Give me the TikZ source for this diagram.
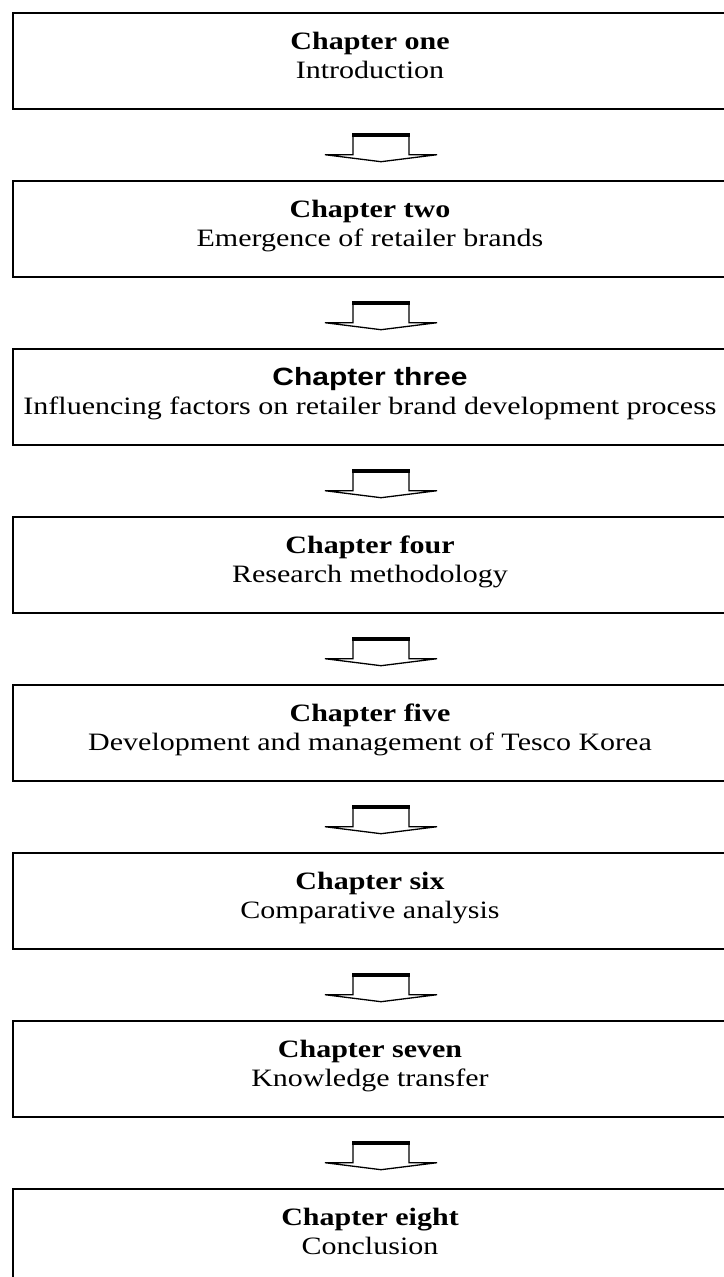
\documentclass[tikz,border=0pt]{standalone}
\usepackage{fontspec}
\setmainfont{Liberation Serif}
\newfontfamily\arialfont{Liberation Sans}
\usetikzlibrary{calc}
\newcommand{\widetext}[1]{\scalebox{1.2}[1]{#1}}
\tikzset{
  chapbox/.style={draw=black, line width=1.4pt, fill=white, minimum width=730pt, minimum height=96pt, inner sep=0pt},
  ttl/.style={font=\fontsize{25}{29}\selectfont\bfseries, inner sep=0pt, anchor=base},
  sub/.style={font=\fontsize{25}{29}\selectfont, inner sep=0pt, anchor=base},
  blockarrow/.style={draw=black, line width=1.3pt, fill=white, line join=miter},
  arrowbar/.style={line width=4pt, line cap=butt}
}
\newcommand{\chapterarrow}[2]{%
  \coordinate (#2) at ($(#1.south)+(3,-24)$);
  \draw[blockarrow] ($(#2)+(-28,0)$) -- ($(#2)+(28,0)$) -- ($(#2)+(28,-21)$) -- ($(#2)+(56,-21)$)
     -- ($(#2)+(0,-28)$) -- ($(#2)+(-56,-21)$) -- ($(#2)+(-28,-21)$) -- cycle;
  \draw[arrowbar] ($(#2)+(-28.6,-1.5)$) -- ($(#2)+(28.6,-1.5)$);
}
\begin{document}
\begin{tikzpicture}[x=1pt,y=1pt]
\useasboundingbox (0,0) rectangle (723,-1277);
\fill[white] (0,0) rectangle (723,-1277);
\foreach \i/\t/\s in {1/Chapter one/Introduction,
                       2/Chapter two/Emergence of retailer brands,
                       3/{\arialfont Chapter three}/Influencing factors on retailer brand development process,
                       4/Chapter four/Research methodology,
                       5/Chapter five/Development and management of Tesco Korea,
                       6/Chapter six/Comparative analysis,
                       7/Chapter seven/Knowledge transfer,
                       8/Chapter eight/Conclusion}{
  \node[chapbox] (b\i) at (378, {-13-48-168*(\i-1)}) {};
  \node[ttl] (t\i) at ($(b\i.north)+(-8,-37)$) {\widetext{\t}};
  \node[sub] (s\i) at ($(b\i.north)+(-8,-66)$) {\widetext{\s}};
}
\foreach \i in {1,...,7}{
  \chapterarrow{b\i}{a\i}
}
\end{tikzpicture}
\end{document}
